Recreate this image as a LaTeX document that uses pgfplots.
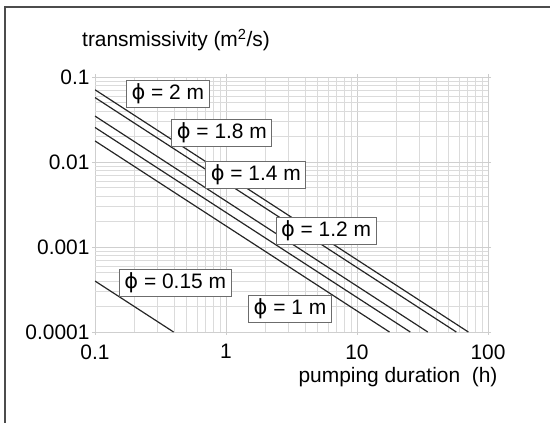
\documentclass[border=0pt]{standalone}
\usepackage{fontspec}
\setmainfont{Liberation Sans}
\newfontfamily\symfont{DejaVu Sans}
\usepackage{pgfplots}
\pgfplotsset{compat=1.18}
\newcommand{\phisym}{{\symfont ϕ}}
\newcommand{\chartfont}{\fontsize{21}{24}\selectfont}
\tikzset{label box/.style={draw=gray!85!black, fill=white, line width=0.8bp,
    inner xsep=5bp, inner ysep=3.5bp, font=\chartfont}}

\begin{document}
\begin{tikzpicture}
\useasboundingbox (0,0) rectangle (550bp,423bp);
\draw[gray!60!black, line width=1.3bp] (5bp,0) -- (5bp,416bp) -- (550bp,416bp);
\begin{axis}[
    at={(95bp,91bp)}, anchor=south west,
    scale only axis,
    width=393bp, height=255bp,
    xmode=log, ymode=log,
    xmin=0.1, xmax=100,
    ymin=0.0001, ymax=0.1,
    axis line style={draw=none},
    grid=both,
    major grid style={gray!38, line width=0.6bp},
    minor grid style={gray!28, line width=0.6bp},
    xtick={0.1,1,10,100},
    xticklabels={0.1,1,10,100},
    ytick={0.0001,0.001,0.01,0.1},
    yticklabels={0.0001,0.001,0.01,0.1},
    tick label style={font=\chartfont},
    xticklabel style={yshift=-6bp},
    yticklabel style={xshift=1bp},
    major tick length=3bp,
    minor tick length=0pt,
    tick style={gray!40},
    tick align=outside,
]
\addplot[black!85, line width=1.2bp] coordinates {(0.1,0.0708) (70.8,0.0001)};
\addplot[black!85, line width=1.2bp] coordinates {(0.1,0.0573) (57.3,0.0001)};
\addplot[black!85, line width=1.2bp] coordinates {(0.1,0.0347) (34.7,0.0001)};
\addplot[black!85, line width=1.2bp] coordinates {(0.1,0.0255) (25.5,0.0001)};
\addplot[black!85, line width=1.2bp] coordinates {(0.1,0.0177) (17.7,0.0001)};
\addplot[black!85, line width=1.2bp] coordinates {(0.1,0.000398) (0.398,0.0001)};

\node[label box] at (axis cs:0.36,0.063) {\phisym\ = 2 m};
\node[label box] at (axis cs:0.93,0.0219) {\phisym\ = 1.8 m};
\node[label box] at (axis cs:1.69,0.00703) {\phisym\ = 1.4 m};
\node[label box] at (axis cs:5.8,0.00154) {\phisym\ = 1.2 m};
\node[label box] at (axis cs:3.08,0.000187) {\phisym\ = 1 m};
\node[label box] at (axis cs:0.41,0.000377) {\phisym\ = 0.15 m};
\end{axis}
\node[font=\chartfont] at (176bp,383bp) {transmissivity (m\textsuperscript{2}/s)};
\node[font=\chartfont] at (398bp,46bp) {pumping duration\ \ (h)};
\end{tikzpicture}
\end{document}
